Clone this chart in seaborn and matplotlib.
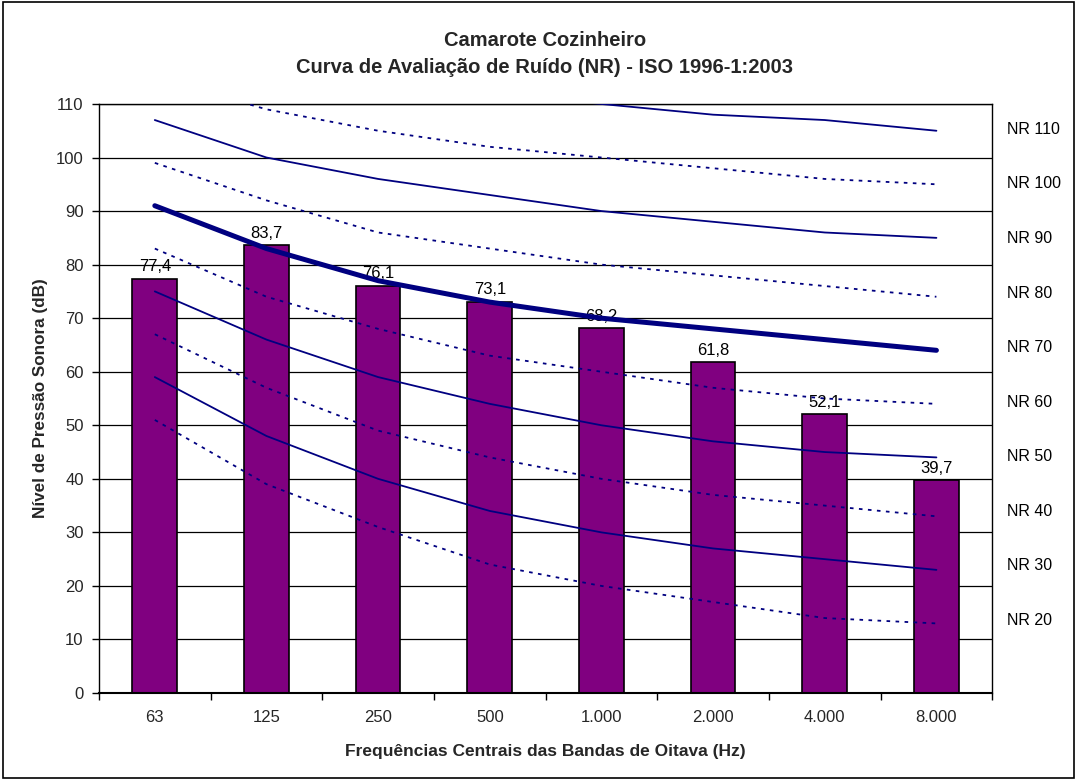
import numpy as np
import pandas as pd
import matplotlib
matplotlib.use("Agg")
import matplotlib.pyplot as plt
import seaborn as sns

# Octave band centre frequencies and measured levels
freq_labels = ["63", "125", "250", "500", "1.000", "2.000", "4.000", "8.000"]
levels = [77.4, 83.7, 76.1, 73.1, 68.2, 61.8, 52.1, 39.7]

# Noise Rating curves (ISO 1996-1)
nr20 = [51, 39, 31, 24, 20, 17, 14, 13]
nr30 = [59, 48, 40, 34, 30, 27, 25, 23]
nr40 = [67, 57, 49, 44, 40, 37, 35, 33]
nr50 = [75, 66, 59, 54, 50, 47, 45, 44]
nr60 = [83, 74, 68, 63, 60, 57, 55, 54]
nr70 = [91, 83, 77, 73, 70, 68, 66, 64]
nr80 = [99, 92, 86, 83, 80, 78, 76, 74]
nr90 = [107, 100, 96, 93, 90, 88, 86, 85]
nr100 = [115, 109, 105, 102, 100, 98, 96, 95]
nr110 = [122, 118, 114, 112, 110, 108, 107, 105]

nr_names = ["NR 110", "NR 100", "NR 90", "NR 80", "NR 70",
            "NR 60", "NR 50", "NR 40", "NR 30", "NR 20"]
nr_curves = [nr110, nr100, nr90, nr80, nr70, nr60, nr50, nr40, nr30, nr20]

title_lines = ["Camarote Cozinheiro",
               "Curva de Avaliação de Ruído (NR) - ISO 1996-1:2003"]
x_label = "Frequências Centrais das Bandas de Oitava (Hz)"
y_label = "Nível de Pressão Sonora (dB)"

sns.set_theme(style="white")
plt.rcParams["font.family"] = ["Liberation Sans", "DejaVu Sans"]

fig = plt.figure(figsize=(10.77, 7.80), dpi=100)
ax = fig.add_axes([0.0919, 0.1115, 0.8294, 0.7552])

df = pd.DataFrame({"freq": freq_labels, "level": levels})
sns.barplot(data=df, x="freq", y="level", order=freq_labels,
            color="#800080", saturation=1, width=0.4,
            edgecolor="black", linewidth=1.2, ax=ax, zorder=2)

# value labels above the bars
bars = ax.containers[0]
ax.bar_label(bars, labels=[f"{v:.1f}".replace(".", ",") for v in levels],
             padding=3, fontsize=12, color="black")

# NR reference curves
positions = np.arange(len(freq_labels))
navy = "#000080"
for name, curve in zip(nr_names, nr_curves):
    level = int(name.split()[1])
    solid = (level // 10) % 2 == 1
    lw = 3.6 if level == 70 else 1.3
    line_df = pd.DataFrame({"pos": positions, "val": curve})
    sns.lineplot(data=line_df, x="pos", y="val", ax=ax, color=navy,
                 linewidth=lw, sort=False, legend=False, zorder=3,
                 linestyle="-" if solid else (0, (2, 3)))

ax.set_xlim(-0.5, len(freq_labels) - 0.5)
ax.set_ylim(0, 110)
ax.set_yticks(np.arange(0, 111, 10))
ax.set_xticks(positions)
ax.set_xticklabels(freq_labels)
ax.yaxis.grid(True, color="black", linewidth=0.9)
ax.xaxis.grid(False)
ax.set_axisbelow(True)

# category separators as ticks on the x axis
ax.set_xticks(np.arange(-0.5, len(freq_labels), 1), minor=True)
ax.tick_params(axis="x", which="major", length=0, labelsize=12, pad=12)
ax.tick_params(axis="x", which="minor", length=5, width=1, color="black",
               direction="out", bottom=True)
ax.tick_params(axis="y", which="major", length=5, width=1, color="black",
               direction="out", left=True, labelsize=12, pad=6)

for s in ax.spines.values():
    s.set_color("black")
    s.set_linewidth(1.0)
ax.spines["bottom"].set_linewidth(1.5)

ax.set_xlabel(x_label, fontsize=12.5, fontweight="bold")
ax.set_ylabel(y_label, fontsize=12.3, fontweight="bold")
ax.xaxis.label.set_va("center")
ax.yaxis.label.set_va("center")
ax.xaxis.set_label_coords(0.5, -0.100)
ax.yaxis.set_label_coords(-0.066, 0.5)

# NR curve names on the right
label_y = np.linspace(0.957, 0.123, len(nr_names))
for name, yy in zip(nr_names, label_y):
    ax.text(1.016, yy, name, transform=ax.transAxes, fontsize=11.5,
            ha="left", va="center", color="black")

fig.text(0.506, 0.948, title_lines[0], ha="center", va="center",
         fontsize=14.5, fontweight="bold")
fig.text(0.506, 0.913, title_lines[1], ha="center", va="center",
         fontsize=14.5, fontweight="bold")

# outer frame
fig.patches.append(plt.Rectangle((0.003, 0.003), 0.994, 0.994,
                                 transform=fig.transFigure, fill=False,
                                 edgecolor="black", linewidth=1.2))

fig.savefig("out.png", dpi=100, facecolor="white")
